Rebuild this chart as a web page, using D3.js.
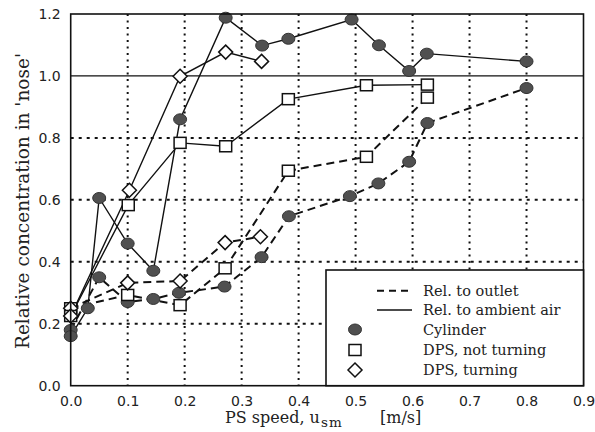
<!DOCTYPE html>
<html><head><meta charset="utf-8">
<script src="https://cdn.jsdelivr.net/npm/d3@7"></script>
<style>body{margin:0;background:#fff}svg{display:block}</style>
</head><body><svg id="c" width="595" height="432"></svg>
<script>
// ---- data ----
const xTicks = [0.0,0.1,0.2,0.3,0.4,0.5,0.6,0.7,0.8,0.9];
const yTicks = [0.0,0.2,0.4,0.6,0.8,1.0,1.2];
// Cylinder
const cylOutletX = [0.0,0.05,0.10,0.145,0.19,0.27,0.335,0.383,0.49,0.54,0.594,0.626,0.80];
const cylOutletY = [0.18,0.35,0.27,0.28,0.30,0.32,0.415,0.547,0.612,0.653,0.723,0.848,0.961];
const cylAmbientX = [0.0,0.03,0.05,0.10,0.145,0.192,0.272,0.336,0.382,0.493,0.541,0.594,0.625,0.80];
const cylAmbientY = [0.16,0.25,0.606,0.459,0.371,0.86,1.188,1.098,1.12,1.182,1.099,1.016,1.072,1.047];
// DPS, not turning
const sqOutletX = [0.0,0.10,0.192,0.271,0.382,0.519,0.626];
const sqOutletY = [0.25,0.293,0.26,0.379,0.694,0.739,0.93];
const sqAmbientX = [0.0,0.101,0.192,0.272,0.382,0.519,0.626];
const sqAmbientY = [0.225,0.583,0.784,0.773,0.925,0.97,0.972];
// DPS, turning
const diOutletX = [0.0,0.10,0.192,0.271,0.333];
const diOutletY = [0.25,0.332,0.338,0.462,0.481];
const diAmbientX = [0.0,0.103,0.192,0.272,0.335];
const diAmbientY = [0.225,0.631,0.999,1.077,1.047];
const legendLabels = ["Rel. to outlet","Rel. to ambient air","Cylinder","DPS, not turning","DPS, turning"];

// ---- chart ----
const svg = d3.select("#c");
const L=70.7, R=583.5, T=14, B=385.7;
const x = d3.scaleLinear().domain([0,0.9]).range([L,R]);
const y = d3.scaleLinear().domain([0,1.2]).range([B,T]);
const ink = "#111";

// grid
const g = svg.append("g");
g.selectAll(".vg").data(xTicks.slice(1,-1)).join("line")
  .attr("x1",d=>x(d)).attr("x2",d=>x(d)).attr("y1",T).attr("y2",B)
  .attr("stroke",ink).attr("stroke-width",2).attr("stroke-dasharray","2,4.5");
g.selectAll(".hg").data(yTicks.filter(v=>v>0 && v<1)).join("line")
  .attr("x1",L).attr("x2",R).attr("y1",d=>y(d)).attr("y2",d=>y(d))
  .attr("stroke",ink).attr("stroke-width",2).attr("stroke-dasharray","3,5");
// 1.0 reference line
g.append("line").attr("x1",L).attr("x2",R).attr("y1",y(1)).attr("y2",y(1))
  .attr("stroke",ink).attr("stroke-width",1.3);

// axes with d3 axes (tick labels)
const xAxis = svg.append("g").attr("transform",`translate(0,${B})`)
  .call(d3.axisBottom(x).tickValues(xTicks).tickFormat(d3.format(".1f")).tickSize(0).tickPadding(10.5));
const yAxis = svg.append("g").attr("transform",`translate(${L},0)`)
  .call(d3.axisLeft(y).tickValues(yTicks).tickFormat(d3.format(".1f")).tickSize(0).tickPadding(10));
[xAxis,yAxis].forEach(a=>{
  a.select(".domain").remove();
  a.selectAll("text").attr("font-family","DejaVu Sans").attr("font-size",14).attr("fill","#222");
});

// lines
const line = d3.line().x(d=>x(d[0])).y(d=>y(d[1]));
const zip = (a,b)=>a.map((v,i)=>[v,b[i]]);
const series = [
  {d:zip(cylOutletX,cylOutletY),dash:true,m:"c"},
  {d:zip(sqOutletX,sqOutletY),dash:true,m:"s"},
  {d:zip(diOutletX,diOutletY),dash:true,m:"d"},
  {d:zip(cylAmbientX,cylAmbientY),dash:false,m:"c"},
  {d:zip(sqAmbientX,sqAmbientY),dash:false,m:"s"},
  {d:zip(diAmbientX,diAmbientY),dash:false,m:"d"},
];
const plot = svg.append("g");
series.forEach(s=>{
  plot.append("path").attr("d",line(s.d)).attr("fill","none").attr("stroke",ink)
    .attr("stroke-width",s.dash?2:1.4).attr("stroke-dasharray",s.dash?"8,5":null);
});
function marker(sel,type,cx,cy){
  if(type==="c") sel.append("ellipse").attr("cx",cx).attr("cy",cy).attr("rx",6.5).attr("ry",5.5)
    .attr("fill","#505050").attr("stroke","#333").attr("stroke-width",1);
  else if(type==="s") sel.append("rect").attr("x",cx-6).attr("y",cy-5.5).attr("width",12).attr("height",11)
    .attr("fill","#fff").attr("stroke",ink).attr("stroke-width",1.5);
  else sel.append("path").attr("d",`M${cx},${cy-7}L${cx+7},${cy}L${cx},${cy+7}L${cx-7},${cy}Z`)
    .attr("fill","#fff").attr("stroke",ink).attr("stroke-width",1.5);
}
series.forEach(s=>s.d.forEach(p=>marker(plot,s.m,x(p[0]),y(p[1]))));

// frame
svg.append("rect").attr("x",L).attr("y",T).attr("width",R-L).attr("height",B-T)
  .attr("fill","none").attr("stroke",ink).attr("stroke-width",1.6);

// legend
const lg = svg.append("g");
lg.append("rect").attr("x",326).attr("y",270).attr("width",R-326).attr("height",B-270)
  .attr("fill","#fff").attr("stroke",ink).attr("stroke-width",1.6);
const rowY = [290.7,310,329.5,350,370];
lg.append("line").attr("x1",377).attr("x2",412).attr("y1",rowY[0]).attr("y2",rowY[0])
  .attr("stroke",ink).attr("stroke-width",2).attr("stroke-dasharray","7,5");
lg.append("line").attr("x1",377).attr("x2",412).attr("y1",rowY[1]).attr("y2",rowY[1])
  .attr("stroke",ink).attr("stroke-width",1.4);
marker(lg,"c",355,rowY[2]); marker(lg,"s",355,rowY[3]); marker(lg,"d",355,rowY[4]);
lg.selectAll("text").data(legendLabels).join("text")
  .attr("x",423).attr("y",(d,i)=>rowY[i]+5).text(d=>d)
  .attr("font-family","DejaVu Serif").attr("font-size",14.5).attr("fill","#222");

// axis titles
const xt = svg.append("text").attr("x",225).attr("y",423)
  .attr("font-family","DejaVu Serif").attr("font-size",16).attr("fill","#222");
xt.append("tspan").text("PS speed, u");
xt.append("tspan").attr("font-size",13.5).attr("letter-spacing",1.2).attr("dx",1).attr("dy",4).text("sm");
xt.append("tspan").attr("dy",-4).attr("x",380).attr("letter-spacing",0).text("[m/s]");
svg.append("text").attr("transform","translate(29,201) rotate(-90)").attr("text-anchor","middle")
  .attr("font-family","DejaVu Serif").attr("font-size",18.5).attr("fill","#222")
  .text("Relative concentration in 'nose'");
</script></body></html>
